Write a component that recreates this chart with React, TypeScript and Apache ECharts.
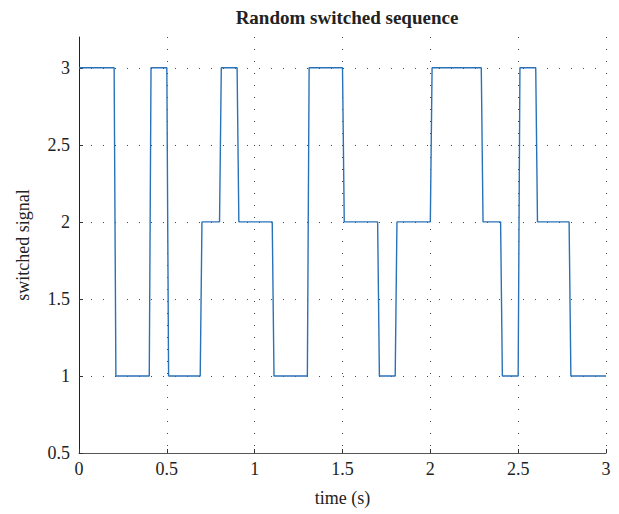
import React, { useEffect, useRef } from "react";
import * as echarts from "echarts";

const times = [
  0, 0.2, 0.21, 0.4, 0.41, 0.5, 0.51, 0.69, 0.7, 0.8, 0.81, 0.9, 0.91, 1.1, 1.11,
  1.3, 1.31, 1.5, 1.51, 1.7, 1.71, 1.8, 1.81, 2.0, 2.01, 2.29, 2.3, 2.4, 2.41,
  2.5, 2.51, 2.6, 2.61, 2.79, 2.8, 3.0,
];
const signal = [
  3, 3, 1, 1, 3, 3, 1, 1, 2, 2, 3, 3, 2, 2, 1,
  1, 3, 3, 2, 2, 1, 1, 2, 2, 3, 3, 2, 2, 1,
  1, 3, 3, 2, 2, 1, 1,
];
const xTicks = [0, 0.5, 1, 1.5, 2, 2.5, 3];
const yTicks = [0.5, 1, 1.5, 2, 2.5, 3];

const FONT = '"Liberation Serif", "DejaVu Serif", serif';

export default function App() {
  const ref = useRef<HTMLDivElement>(null);
  useEffect(() => {
    if (!ref.current) return;
    const chart = echarts.init(ref.current, null, { renderer: "svg" });
    const dotted = { color: "#444", width: 1, type: [1, 11] as number[] };
    chart.setOption({
      animation: false,
      backgroundColor: "#fff",
      title: {
        text: "Random switched sequence",
        left: 342,
        textAlign: "center",
        top: 3,
        textStyle: { fontFamily: FONT, fontSize: 19, fontWeight: "bold", color: "#222" },
      },
      grid: { left: 79, right: 13, top: 37, bottom: 61, containLabel: false },
      xAxis: {
        type: "value",
        min: 0,
        max: 3,
        name: "time (s)",
        nameLocation: "middle",
        nameGap: 36,
        nameTextStyle: { fontFamily: FONT, fontSize: 18, color: "#222" },
        axisLine: { show: true, lineStyle: { color: "#555", width: 1 } },
        axisTick: { show: true, inside: true, length: 4, lineStyle: { color: "#333" }, customValues: xTicks },
        axisLabel: {
          fontFamily: FONT,
          fontSize: 18,
          color: "#222",
          margin: 7,
          customValues: xTicks,
          formatter: (v: number) => String(v),
        },
        splitLine: { show: true, lineStyle: dotted },
      },
      yAxis: {
        type: "value",
        min: 0.5,
        max: 3.2,
        name: "switched signal",
        nameLocation: "middle",
        nameGap: 47,
        nameTextStyle: { fontFamily: FONT, fontSize: 18, color: "#222" },
        axisLine: { show: true, lineStyle: { color: "#222", width: 1 } },
        axisTick: { show: true, inside: true, length: 4, lineStyle: { color: "#333" }, customValues: yTicks },
        axisLabel: {
          fontFamily: FONT,
          fontSize: 18,
          color: "#222",
          margin: 9,
          customValues: yTicks,
          formatter: (v: number) => String(v),
        },
        splitLine: { show: true, lineStyle: dotted },
      },
      series: [
        {
          type: "line",
          data: times.map((t, i) => [t, signal[i]]),
          showSymbol: false,
          symbol: "none",
          lineStyle: { color: "#2a72b8", width: 1.4 },
        },
      ],
    });
    return () => chart.dispose();
  }, []);
  return <div ref={ref} style={{ width: 619, height: 514, position: "absolute", left: 0, top: 0 }} />;
}
